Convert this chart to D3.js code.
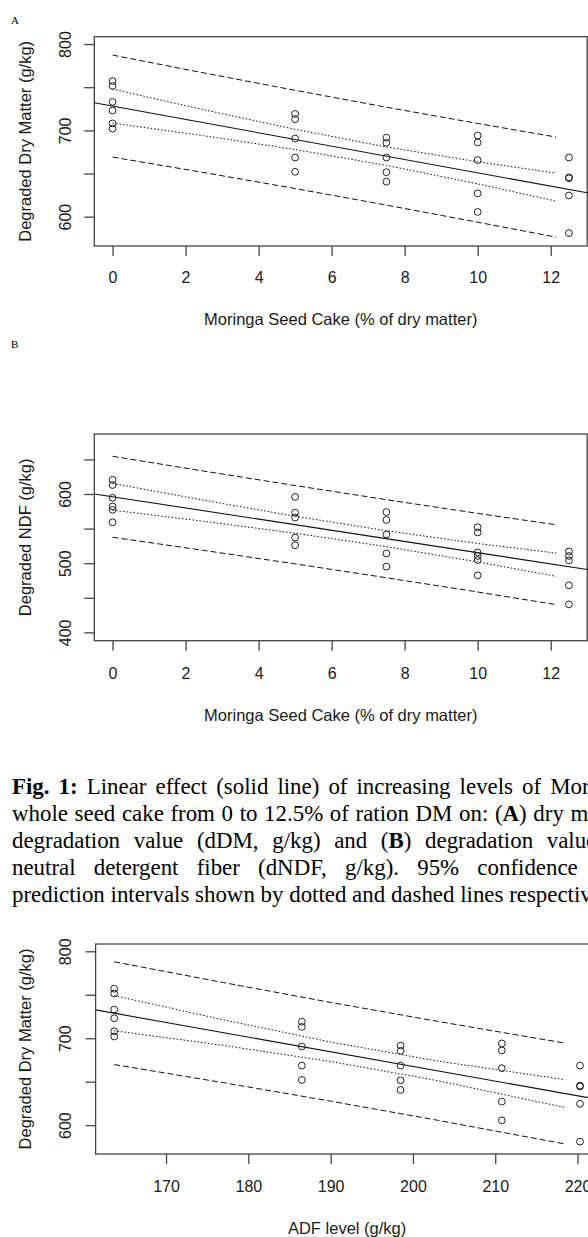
<!DOCTYPE html>
<html><head><meta charset="utf-8">
<script src="https://cdn.jsdelivr.net/npm/d3@7"></script>
<style>
html,body{margin:0;padding:0;background:#fff;width:588px;height:1237px;overflow:hidden;}
#wrap{position:relative;width:588px;height:1237px;overflow:hidden;background:#fff;}
svg{position:absolute;left:0;top:0;}
.cap{position:absolute;left:12px;width:617px;font-family:"Liberation Serif","Times New Roman",serif;font-size:22.9px;line-height:27px;color:#000;}
.just{text-align:justify;text-align-last:justify;}
.last{white-space:nowrap;}
</style></head>
<body><div id="wrap"><svg id="chart" width="588" height="1237"></svg>
<div class="cap just" style="top:773px"><b>Fig. 1:</b> Linear effect (solid line) of increasing levels of Moringa</div>
<div class="cap just" style="top:800px">whole seed cake from 0 to 12.5% of ration DM on: (<b>A</b>) dry matter</div>
<div class="cap just" style="top:827px">degradation value (dDM, g/kg) and (<b>B</b>) degradation value of</div>
<div class="cap just" style="top:854px">neutral detergent fiber (dNDF, g/kg). 95% confidence and</div>
<div class="cap last" style="top:881px">prediction intervals shown by dotted and dashed lines respectively.</div>
</div>
<script>
// ---------- data ----------
const mscLevels = [0, 5, 7.5, 10, 12.5];
const adfLevels = [163.7, 186.5, 198.5, 210.8, 220.3];

// degraded dry matter (g/kg) observations per level
const dmObs = [
  [757, 751.5, 733, 723, 708, 702],
  [719, 713, 690.5, 668.5, 652],
  [691.5, 685.5, 668.5, 651.5, 640.5],
  [694, 686, 665.5, 627, 605.5],
  [668.5, 645.5, 644.5, 624.5, 581]
];
// degraded NDF (g/kg) observations per level
const ndfObs = [
  [620.5, 613, 594.5, 582, 577, 559],
  [595.7, 573, 566, 537, 526],
  [574, 562.5, 541.5, 514, 495],
  [552, 544.5, 515.5, 510.5, 504.5, 482.5],
  [517, 510.5, 504, 468, 440.5]
];

// fitted lines [intercept, slope]
const dmFit = [728.1, -7.73];
const ndfFit = [596.0, -8.08];
const adfDmFit = [1005.1, -1.688];

// interval curves vs MSC level
const mscGrid = [0, 2.5, 5, 7.5, 10, 12.15];
const dmCiUpper = [747.8, 723.9, 701.2, 680.8, 663.6, 650.4];
const dmCiLower = [708.4, 693.7, 677.8, 659.4, 638.0, 618.0];
const dmPiUpper = [787.2, 766.5, 746.4, 726.8, 708.0, 692.2];
const dmPiLower = [669.0, 651.1, 632.6, 613.4, 593.6, 576.2];
const ndfCiUpper = [615.3, 591.0, 567.9, 546.9, 528.5, 514.6];
const ndfCiLower = [576.7, 560.6, 543.3, 523.9, 501.9, 481.0];
const ndfPiUpper = [654.5, 633.1, 612.2, 591.8, 572.0, 555.5];
const ndfPiLower = [537.5, 518.5, 499.0, 479.0, 458.4, 440.1];

// interval curves vs ADF level
const adfGrid = [163.7, 177, 190, 203, 218.5];
const adfCiUpper = [749.0, 721.1, 695.6, 673.8, 652.3];
const adfCiLower = [708.6, 691.7, 673.2, 651.2, 620.3];
const adfPiUpper = [787.9, 764.0, 741.2, 719.4, 694.3];
const adfPiLower = [669.7, 648.8, 627.6, 605.6, 578.3];

// ticks
const mscTicks = [0, 2, 4, 6, 8, 10, 12];
const adfTicks = [170, 180, 190, 200, 210, 220];
const dmTicks = [600, 650, 700, 750, 800];
const dmTickLabels = [600, 700, 800];
const ndfTicks = [400, 450, 500, 550, 600, 650];
const ndfTickLabels = [400, 500, 600];

// ---------- drawing ----------
const svg = d3.select('#chart');
const SANS = '"Liberation Sans", Arial, sans-serif';
const INK = '#1a1a1a';

function drawPanel(cfg) {
  const x = d3.scaleLinear().domain(cfg.xDomain).range([cfg.left, cfg.right]);
  const y = d3.scaleLinear().domain(cfg.yDomain).range([cfg.bottom, cfg.top]);
  const g = svg.append('g');

  if (cfg.tag) {
    g.append('text').attr('x', 11).attr('y', cfg.tagY)
      .attr('font-family', '"Liberation Serif", serif').attr('font-size', 11)
      .attr('fill', '#000').text(cfg.tag);
  }

  // box
  g.append('rect').attr('x', cfg.left).attr('y', cfg.top)
    .attr('width', cfg.right - cfg.left).attr('height', cfg.bottom - cfg.top)
    .attr('fill', 'none').attr('stroke', '#444').attr('stroke-width', 1.3);

  // axes
  const xa = g.append('g').attr('transform', `translate(0,${cfg.bottom})`)
    .call(d3.axisBottom(x).tickValues(cfg.xTicks).tickSize(10).tickSizeOuter(0).tickPadding(14));
  xa.select('.domain').remove();
  xa.selectAll('line').attr('stroke', '#444').attr('stroke-width', 1.3);
  xa.selectAll('text').attr('font-family', SANS).attr('font-size', 16).attr('fill', INK)
    .attr('dy', null).attr('y', cfg.xLabelBase - cfg.bottom);

  const ya = g.append('g').attr('transform', `translate(${cfg.left},0)`)
    .call(d3.axisLeft(y).tickValues(cfg.yTicks).tickSize(10).tickSizeOuter(0)
      .tickFormat(v => cfg.yLabels.includes(v) ? d3.format('d')(v) : ''));
  ya.select('.domain').remove();
  ya.selectAll('line').attr('stroke', '#444').attr('stroke-width', 1.3);
  ya.selectAll('text').attr('font-family', SANS).attr('font-size', 16).attr('fill', INK)
    .attr('dy', null).attr('x', 0).attr('y', -(cfg.left - 71))
    .attr('text-anchor', 'middle').attr('transform', 'rotate(-90)');

  // titles
  g.append('text').attr('x', (cfg.left + cfg.right) / 2).attr('y', cfg.xTitleBase)
    .attr('text-anchor', 'middle').attr('font-family', SANS).attr('font-size', 16.5)
    .attr('fill', INK).text(cfg.xTitle);
  g.append('text')
    .attr('transform', `translate(30.5,${(cfg.top + cfg.bottom) / 2}) rotate(-90)`)
    .attr('text-anchor', 'middle').attr('font-family', SANS).attr('font-size', 16.5)
    .attr('fill', INK).text(cfg.yTitle);

  // intervals
  const line = d3.line().x(d => x(d[0])).y(d => y(d[1]));
  const curve = (xs, ys, dash) => g.append('path')
    .attr('d', line(xs.map((v, i) => [v, ys[i]])))
    .attr('fill', 'none').attr('stroke', '#111').attr('stroke-width', 1)
    .attr('stroke-dasharray', dash);
  curve(cfg.grid, cfg.ciU, '1.5 2');
  curve(cfg.grid, cfg.ciL, '1.5 2');
  curve(cfg.grid, cfg.piU, '6 3');
  curve(cfg.grid, cfg.piL, '6 3');

  // fit line across plot region
  const [b0, b1] = cfg.fit;
  g.append('path').attr('d', line(cfg.xDomain.map(v => [v, b0 + b1 * v])))
    .attr('fill', 'none').attr('stroke', '#111').attr('stroke-width', 1.1);

  // points
  const pts = [];
  cfg.levels.forEach((lv, i) => cfg.obs[i].forEach(v => pts.push([lv, v])));
  g.selectAll('circle.pt').data(pts).enter().append('circle').attr('class', 'pt')
    .attr('cx', d => x(d[0])).attr('cy', d => y(d[1])).attr('r', 3.4)
    .attr('fill', 'none').attr('stroke', '#222').attr('stroke-width', 1);
}

drawPanel({
  tag: 'A', tagY: 24,
  xDomain: [-0.5, 13], yDomain: [566, 808.5],
  left: 94.3, right: 587.2, top: 36.7, bottom: 246,
  xTicks: mscTicks, yTicks: dmTicks, yLabels: dmTickLabels,
  xLabelBase: 282.5, xTitleBase: 325,
  xTitle: 'Moringa Seed Cake (% of dry matter)', yTitle: 'Degraded Dry Matter (g/kg)',
  grid: mscGrid, ciU: dmCiUpper, ciL: dmCiLower, piU: dmPiUpper, piL: dmPiLower,
  fit: dmFit, levels: mscLevels, obs: dmObs
});

drawPanel({
  tag: 'B', tagY: 348,
  xDomain: [-0.5, 13], yDomain: [388, 686.7],
  left: 94.3, right: 587.2, top: 434, bottom: 640.7,
  xTicks: mscTicks, yTicks: ndfTicks, yLabels: ndfTickLabels,
  xLabelBase: 679, xTitleBase: 721,
  xTitle: 'Moringa Seed Cake (% of dry matter)', yTitle: 'Degraded NDF (g/kg)',
  grid: mscGrid, ciU: ndfCiUpper, ciL: ndfCiLower, piU: ndfPiUpper, piL: ndfPiLower,
  fit: ndfFit, levels: mscLevels, obs: ndfObs
});

drawPanel({
  tag: null,
  xDomain: [161.44, 222.56], yDomain: [566.8, 808.4],
  left: 95.6, right: 598.6, top: 944, bottom: 1154,
  xTicks: adfTicks, yTicks: dmTicks, yLabels: dmTickLabels,
  xLabelBase: 1192, xTitleBase: 1233.5,
  xTitle: 'ADF level (g/kg)', yTitle: 'Degraded Dry Matter (g/kg)',
  grid: adfGrid, ciU: adfCiUpper, ciL: adfCiLower, piU: adfPiUpper, piL: adfPiLower,
  fit: adfDmFit, levels: adfLevels, obs: dmObs
});
</script>
</body></html>
